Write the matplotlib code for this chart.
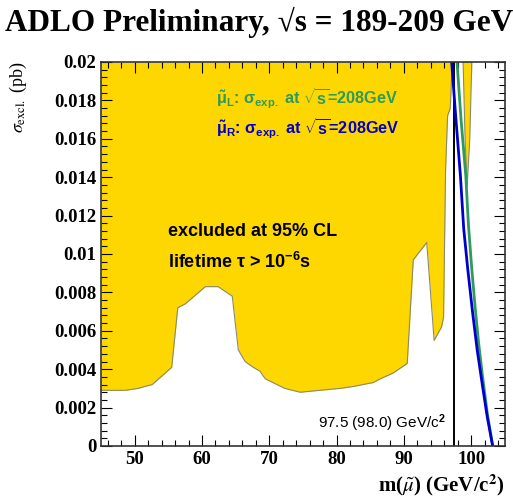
import numpy as np
import matplotlib
matplotlib.use("Agg")
import matplotlib.pyplot as plt
from matplotlib.ticker import MultipleLocator

plt.rcParams['mathtext.fontset'] = 'custom'
plt.rcParams['mathtext.rm'] = 'Liberation Sans:bold'
plt.rcParams['mathtext.it'] = 'Liberation Sans:bold'
plt.rcParams['mathtext.bf'] = 'Liberation Sans:bold'

# lower edge of the excluded (yellow) region
excl_m = [45, 48.6, 50.5, 51.5, 52.6, 55.5, 56.4, 57.5, 60.5, 62.4, 64.5, 65.4,
          66.4, 67.6, 68.6, 69.4, 72.3, 74.6, 77.5, 80.5, 82.5, 83.9, 85.4, 86.5,
          88.4, 90.5, 91.4, 93.4, 94.5, 95.6, 95.9, 96.2, 96.5, 96.9, 97.2]
excl_s = [0.0029, 0.0029, 0.0030, 0.0031, 0.0032, 0.0041, 0.0072, 0.0074, 0.0083,
          0.0083, 0.0078, 0.0050, 0.0044, 0.0041, 0.0039, 0.0035, 0.0030, 0.0028,
          0.0029, 0.0030, 0.0031, 0.0032, 0.0033, 0.0035, 0.0038, 0.0043, 0.0097,
          0.0106, 0.0055, 0.0062, 0.0067, 0.0144, 0.0172, 0.0176, 0.0200]

# small excluded sliver near 99-100 GeV
sliver_m = [98.8, 99.1, 99.4, 99.8, 100.1]
sliver_s = [0.0200, 0.0160, 0.0135, 0.0160, 0.0200]

# expected cross sections at 208 GeV
muR_m = [97.1, 97.7, 98.4, 98.9, 99.5, 100.2, 100.9, 101.7, 102.4, 103.2, 103.6]
muR_s = [0.0200, 0.0172, 0.0141, 0.0113, 0.0092, 0.0070, 0.0050, 0.0031, 0.0015, 0.0, -0.001]
muL_m = [97.9, 98.5, 99.2, 99.6, 100.1, 100.6, 101.1, 101.7, 102.4, 103.2, 103.6]
muL_s = [0.0200, 0.0170, 0.0141, 0.0115, 0.0092, 0.0072, 0.0054, 0.0036, 0.0017, 0.0, -0.001]

m_limit = 97.5

yellow = '#FFD700'
edge = '#8a8a6a'
green = '#2E9A5E'
blue = '#0000CC'

fig = plt.figure(figsize=(5.13, 5.0), dpi=100)
ax = fig.add_axes([0.197, 0.108, 0.787, 0.768])

ax.fill_between(excl_m, excl_s, 0.02, color=yellow, lw=0)
ax.plot(excl_m, excl_s, color=edge, lw=0.8)
ax.fill(sliver_m, sliver_s, facecolor=yellow, edgecolor=edge, lw=0.8, zorder=2)

ax.axvline(m_limit, color='black', lw=1.4)
ax.plot(muL_m, muL_s, color=green, lw=2)
ax.plot(muR_m, muR_s, color=blue, lw=2)

ax.set_xlim(45, 105)
ax.set_ylim(0, 0.02)
ax.xaxis.set_major_locator(MultipleLocator(10))
ax.xaxis.set_minor_locator(MultipleLocator(2))
ax.yaxis.set_major_locator(MultipleLocator(0.002))
ax.yaxis.set_minor_locator(MultipleLocator(0.0004))
ax.tick_params(which='both', direction='in', top=True, right=True)
ax.tick_params(which='major', length=8, width=0.8)
ax.tick_params(which='minor', length=4, width=0.8)
ax.set_yticks(np.arange(0, 0.0201, 0.002))
ax.set_yticklabels(['0', '0.002', '0.004', '0.006', '0.008', '0.01', '0.012',
                    '0.014', '0.016', '0.018', '0.02'])
for lab in ax.get_xticklabels() + ax.get_yticklabels():
    lab.set_fontfamily('Liberation Serif')
    lab.set_fontweight('bold')
    lab.set_fontsize(13.5)
for sp in ax.spines.values():
    sp.set_linewidth(1.2)
    sp.set_color('#333333')

ax.text(55.0, 0.01115, 'excluded at 95% CL', fontsize=13, fontweight='bold',
        family='Liberation Sans', va='center')
ax.text(55.0, 0.0096, r'lifetime $\tau$ > 10$^{-6}$s', fontsize=13,
        family='Liberation Sans', fontweight='bold', va='center')

ax.text(62.1, 0.0181, r'$\tilde{\mu}_L$: $\sigma_{exp.}$ at $\sqrt{s}$=208GeV',
        fontsize=11.7, color=green, va='center', fontweight='bold',
        family='Liberation Sans', math_fontfamily='custom')
ax.text(62.1, 0.0165, r'$\tilde{\mu}_R$: $\sigma_{exp.}$ at $\sqrt{s}$=208GeV',
        fontsize=11.7, color=blue, va='center', fontweight='bold',
        family='Liberation Sans', math_fontfamily='custom')

ax.text(96.2, 0.0012, r'97.5 (98.0) GeV/c$^2$', fontsize=11, ha='right',
        va='center', family='Liberation Sans')

fig.text(0.505, 0.955, 'ADLO Preliminary, \u221as = 189-209 GeV',
         fontsize=22.5, fontweight='bold', family='Liberation Serif',
         ha='center', va='center')
fig.text(0.035, 0.876, r'$\sigma_{\mathrm{excl.}}$ (pb)', rotation=90,
         fontsize=13, family='Liberation Serif', ha='center', va='top',
         math_fontfamily='stix')
fig.text(0.984, 0.03, r'm($\tilde{\mu}$) (GeV/c$^\mathbf{2}$)', fontsize=15,
         fontweight='bold', family='Liberation Serif', ha='right', va='center',
         math_fontfamily='stix')

fig.savefig('out.png', dpi=100)
